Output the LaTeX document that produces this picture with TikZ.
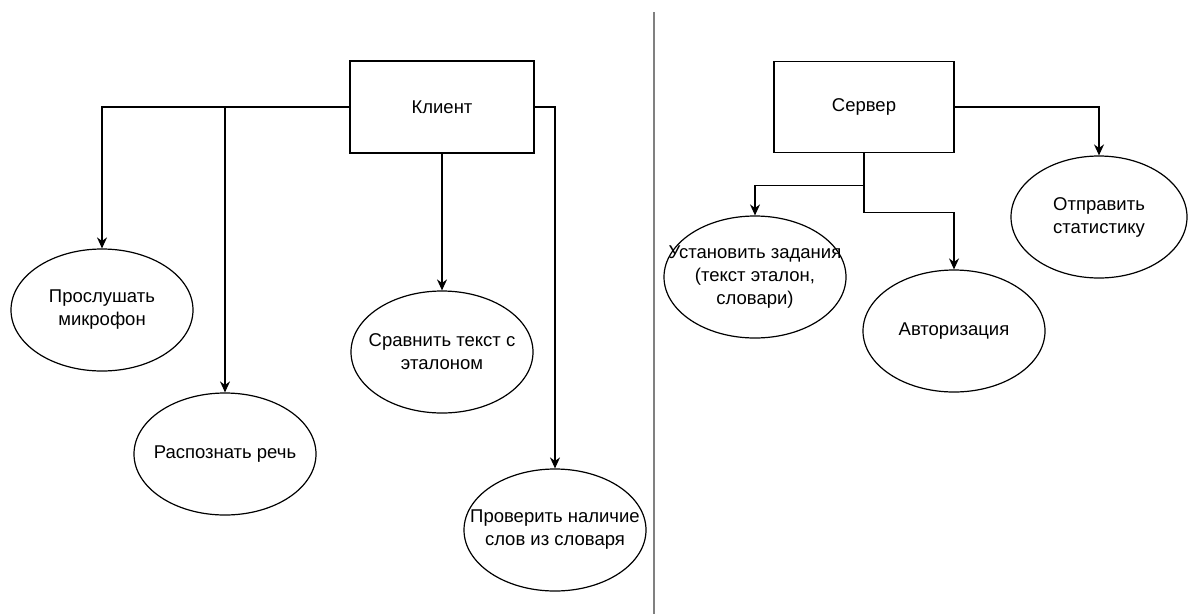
\documentclass[tikz,border=0pt]{standalone}
\usepackage{fontspec}
\setmainfont{Liberation Sans}
\usetikzlibrary{arrows.meta, shapes.geometric}

\begin{document}
\begin{tikzpicture} [x = 1pt, y = -1pt, line width = 1.2pt,
  font = \fontsize{18.5}{23}\selectfont,
  box/.style = {draw, rectangle, inner sep = 0pt},
  oval/.style = {draw, ellipse, inner sep = -45pt, align = center,
    minimum width = 182pt, minimum height = 122pt},
  arr/.style = {-{Stealth[length = 11pt, width = 10pt]}}]
\useasboundingbox (0,0) rectangle (1193,614);
% client side
\node[box, minimum width = 184pt, minimum height = 92pt] (c0) at (442,107) {Клиент};
\node[oval] (c1) at (102,310) {Прослушать\\микрофон};
\node[oval] (c2) at (225,454) {Распознать речь};
\node[oval] (c3) at (442,352) {Сравнить текст с\\эталоном};
\node[oval] (c4) at (555,530) {Проверить наличие\\слов из словаря};
\draw[arr] (c0.west) -| (c1.north);
\draw[arr] (c0.west) -| (c2.north);
\draw[arr] (c0.south) -- (c3.north);
\draw[arr] (c0.east) -| (c4.north);
% divider
\draw[gray, line width = 2pt] (654,12) -- (654,614);
% server side
\node[box, minimum width = 180pt, minimum height = 91pt] (s0) at (864,107) {Сервер};
\node[oval] (s1) at (755,277) {Установить задания\\(текст эталон,\\словари)};
\node[oval] (s2) at (954,331) {Авторизация};
\node[oval, minimum width = 176pt] (s3) at (1099,217) {Отправить\\статистику};
\draw[arr] (s0.south) -- ++(0,32) -| (s1.north);
\draw[arr] (s0.south) -- ++(0,59) -| (s2.north);
\draw[arr] (s0.east) -| (s3.north);
\end{tikzpicture}
\end{document}
